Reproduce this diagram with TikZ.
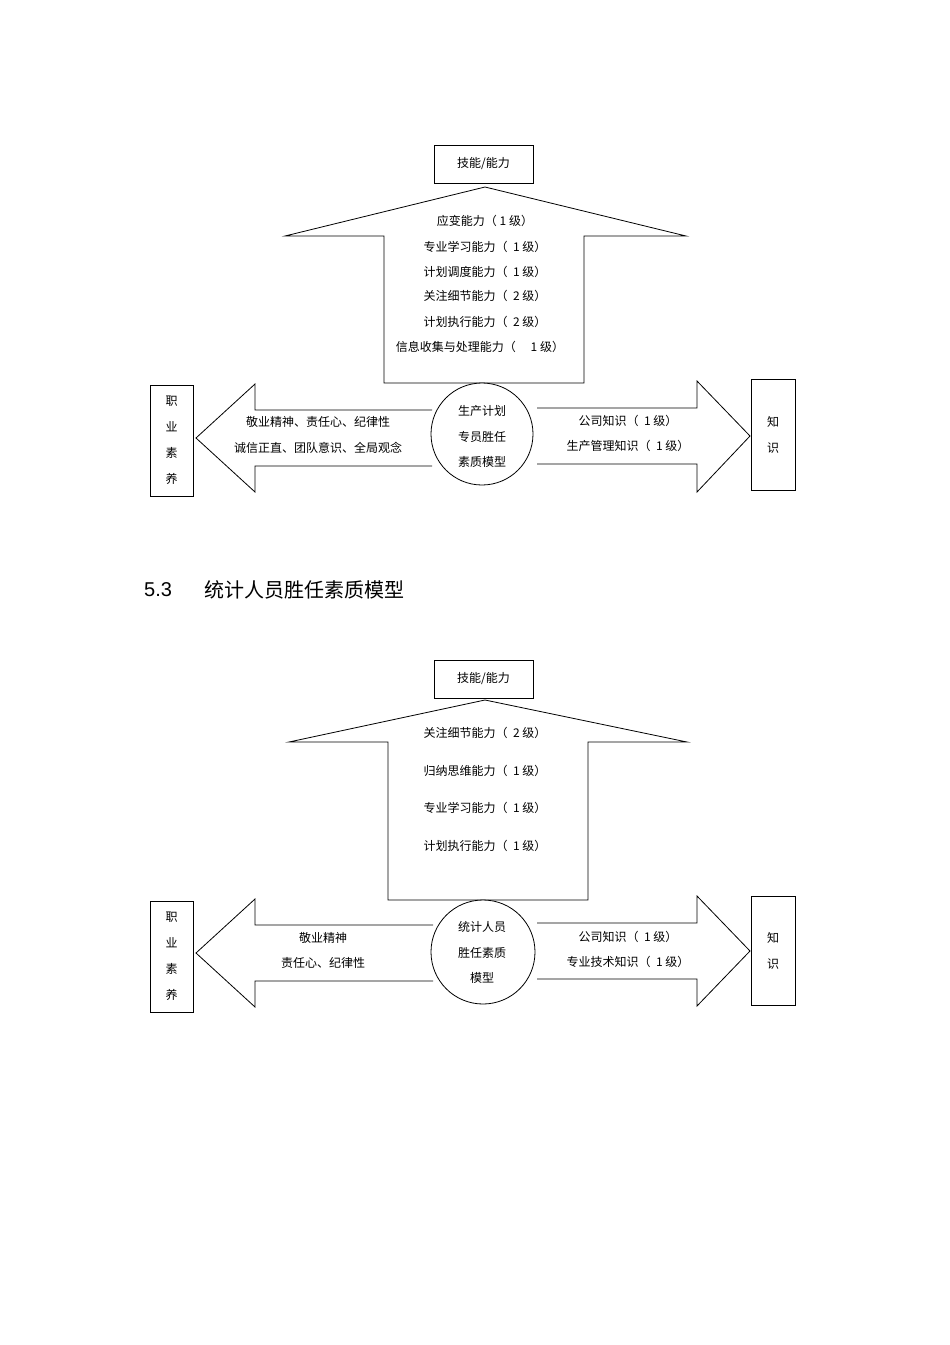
\documentclass[tikz,border=0pt]{standalone}
\usepackage{fontspec}
\newfontfamily\cjk{Noto Sans CJK SC}
\setmainfont{Liberation Sans}
\begin{document}
\begin{tikzpicture}[x=1pt,y=-1pt,
  shp/.style={draw=black,line width=0.8pt,fill=white},
  lbl/.style={font=\cjk\fontsize{12}{14}\selectfont,inner sep=0pt},
  vbox/.style={draw=black,line width=0.8pt,fill=white},
  vtxt/.style={font=\cjk\fontsize{12}{26}\selectfont,align=center,inner sep=0pt}]
\useasboundingbox[fill=white] (0,0) rectangle (950,1345);
% ---------------- Diagram 1 ----------------
\node[shp,minimum width=99pt,minimum height=38pt,lbl] (t1) at (483.5,164) {技能/能力};
\draw[shp] (384,383) -- (384,236) -- (285,236) -- (485,187) -- (686,236) -- (584,236) -- (584,383) -- cycle;
\draw[shp] (432,410) -- (255,410) -- (255,384) -- (196,438) -- (255,492) -- (255,466) -- (432,466);
\draw[shp] (537,408) -- (697,408) -- (697,381) -- (750,436) -- (697,492) -- (697,464) -- (537,464);
\node[shp,circle,minimum size=102pt,inner sep=0pt] (c1) at (482,434) {};
\node[vbox,minimum width=43pt,minimum height=111pt] (l1) at (171.5,440.5) {};
\node[vtxt] at (l1) {职\\业\\素\\养};
\node[vbox,minimum width=44pt,minimum height=111pt] (r1) at (773,434.5) {};
\node[vtxt] at (r1) {知\\识};
\node[lbl] at (485,221) {应变能力（ 1 级）};
\node[lbl] at (485,247) {专业学习能力（ \ 1 级）};
\node[lbl] at (485,272) {计划调度能力（ \ 1 级）};
\node[lbl] at (485,296) {关注细节能力（ \ 2 级）};
\node[lbl] at (485,322) {计划执行能力（ \ 2 级）};
\node[lbl] at (480,347) {信息收集与处理能力（ \quad 1 级）};
\node[lbl] at (318,422) {敬业精神、责任心、纪律性};
\node[lbl] at (318,448) {诚信正直、团队意识、全局观念};
\node[lbl] at (628,421) {公司知识（ \ 1 级）};
\node[lbl] at (628,446) {生产管理知识（ \ 1 级）};
\node[lbl] at (482,411) {生产计划};
\node[lbl] at (482,437) {专员胜任};
\node[lbl] at (482,462) {素质模型};
% ---------------- Heading ----------------
\node[anchor=west,inner sep=0pt,font=\fontsize{20}{22}\selectfont] (h) at (144,590) {5.3};
\node[anchor=west,inner sep=0pt,font=\cjk\fontsize{20}{22}\selectfont] (h2) at (204,590) {统计人员胜任素质模型};
% ---------------- Diagram 2 ----------------
\node[shp,minimum width=99pt,minimum height=38pt,lbl] (t2) at (483.5,679) {技能/能力};
\draw[shp] (388,900) -- (388,742) -- (289,742) -- (485,700) -- (687,742) -- (588,742) -- (588,900) -- cycle;
\draw[shp] (433,925) -- (255,925) -- (255,899) -- (196,953) -- (255,1007) -- (255,981) -- (433,981);
\draw[shp] (537,923) -- (697,923) -- (697,896) -- (750,951) -- (697,1006) -- (697,979) -- (537,979);
\node[shp,circle,minimum size=104pt,inner sep=0pt] (c2) at (483,952) {};
\node[vbox,minimum width=43pt,minimum height=111pt] (l2) at (171.5,956.5) {};
\node[vtxt] at (l2) {职\\业\\素\\养};
\node[vbox,minimum width=44pt,minimum height=109pt] (r2) at (773,950.5) {};
\node[vtxt] at (r2) {知\\识};
\node[lbl] at (485,733) {关注细节能力（ \ 2 级）};
\node[lbl] at (485,771) {归纳思维能力（ \ 1 级）};
\node[lbl] at (485,808) {专业学习能力（ \ 1 级）};
\node[lbl] at (485,846) {计划执行能力（ \ 1 级）};
\node[lbl] at (323,938) {敬业精神};
\node[lbl] at (323,963) {责任心、纪律性};
\node[lbl] at (628,937) {公司知识（ \ 1 级）};
\node[lbl] at (628,962) {专业技术知识（ \ 1 级）};
\node[lbl] at (482,927) {统计人员};
\node[lbl] at (482,953) {胜任素质};
\node[lbl] at (482,978) {模型};
\end{tikzpicture}
\end{document}
